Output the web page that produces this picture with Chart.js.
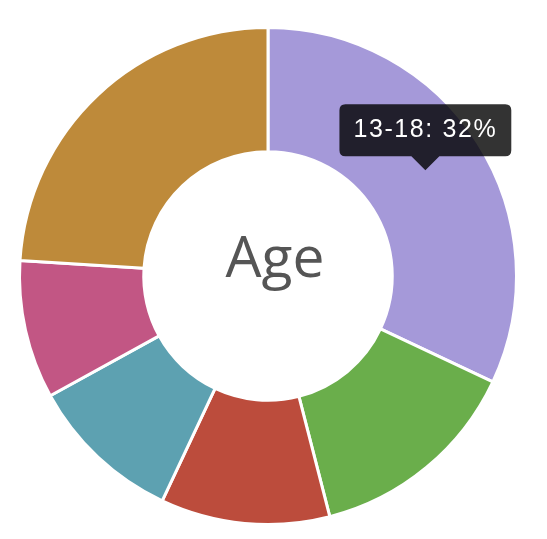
<!DOCTYPE html>
<html>
<head>
<meta charset="utf-8">
<script src="https://cdn.jsdelivr.net/npm/chart.js@4"></script>
<style>
html,body{margin:0;padding:0;background:#fff;}
#wrap{position:relative;width:547px;height:539px;}
</style>
</head>
<body>
<div id="wrap"><canvas id="c" width="547" height="539"></canvas></div>
<script>
const categories = ["13-18", "19-24", "25-34", "35-44", "45-54", "55+"];
const shares = [32, 14, 11, 10, 9, 24];
const sliceColors = ["#a599d9", "#6aae4b", "#bc4c3c", "#5da1b1", "#c25684", "#be8a3a"];
const centerTitle = "Age";

Chart.Tooltip.positioners.arcAbove = function (elements) {
  if (!elements.length) return false;
  const p = elements[0].element.tooltipPosition();
  return { x: p.x, y: p.y - 4 };
};

const centerText = {
  id: "centerText",
  afterDatasetsDraw(chart) {
    const arc = chart.getDatasetMeta(0).data[0];
    if (!arc) return;
    const ctx = chart.ctx;
    ctx.save();
    ctx.letterSpacing = "0px";
    ctx.font = "57px 'Open Sans'";
    ctx.fillStyle = "#555555";
    ctx.textAlign = "center";
    ctx.textBaseline = "alphabetic";
    ctx.fillText(centerTitle, arc.x + 7, arc.y + 1);
    ctx.restore();
  }
};

const canvas = document.getElementById("c");
const ctx2d = canvas.getContext("2d");
ctx2d.letterSpacing = "1.6px";

const chart = new Chart(canvas, {
  type: "doughnut",
  data: {
    labels: categories,
    datasets: [{
      data: shares,
      backgroundColor: sliceColors,
      borderColor: "#ffffff",
      borderWidth: 3,
      hoverOffset: 0
    }]
  },
  options: {
    responsive: false,
    animation: false,
    events: [],
    cutout: "50%",
    layout: { padding: { left: 18, top: 26, right: 29, bottom: 13 } },
    plugins: {
      legend: { display: false },
      tooltip: {
        enabled: true,
        position: "arcAbove",
        displayColors: false,
        backgroundColor: "rgba(0,0,0,0.8)",
        bodyFont: { family: "'Liberation Sans', Arial, sans-serif", size: 25 },
        bodyColor: "#ffffff",
        padding: { top: 11, bottom: 11, left: 14, right: 14 },
        caretSize: 14,
        cornerRadius: 6,
        xAlign: "center",
        yAlign: "bottom",
        callbacks: {
          title: () => "",
          label: (c) => c.label + ": " + c.raw + "%"
        }
      }
    }
  },
  plugins: [centerText]
});

chart.ctx.letterSpacing = "1.6px";
chart.tooltip.setActiveElements([{ datasetIndex: 0, index: 0 }], { x: 0, y: 0 });
chart.update();
</script>
</body>
</html>
